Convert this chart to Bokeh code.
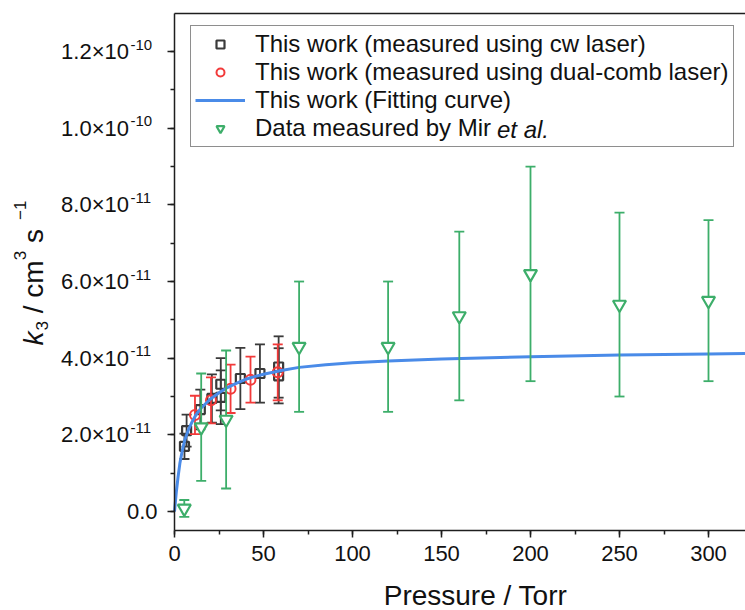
from bokeh.plotting import figure
from bokeh.models import (Range1d, SingleIntervalTicker, FixedTicker,
                          CustomJSTickFormatter, Label, Legend, LegendItem,
                          LinearAxis)
from bokeh.embed import file_html
from bokeh.resources import INLINE

# ---------------- data ----------------
cw_pressure = [5.6, 6.8, 14.5, 21.0, 26.0, 26.0, 37.0, 48.0, 58.5, 58.5]
cw_k3 = [1.70e-11, 2.11e-11, 2.66e-11, 2.95e-11, 3.32e-11, 2.98e-11,
         3.47e-11, 3.60e-11, 3.77e-11, 3.54e-11]
cw_err = [0.33e-11, 0.42e-11, 0.52e-11, 0.63e-11, 0.68e-11, 0.70e-11,
          0.80e-11, 0.76e-11, 0.80e-11, 0.72e-11]

dc_pressure = [11.5, 20.5, 31.5, 42.7, 58.0]
dc_k3 = [2.52e-11, 2.90e-11, 3.20e-11, 3.44e-11, 3.63e-11]
dc_err = [0.50e-11, 0.60e-11, 0.63e-11, 0.60e-11, 0.73e-11]

fit_pressure = [0, 1, 2, 3, 4, 5, 6, 8, 10, 12, 15, 20, 25, 30, 35, 40, 45,
                50, 60, 70, 85, 100, 120, 150, 200, 250, 300, 330]
fit_k3 = [0.0, 0.50e-11, 0.90e-11, 1.25e-11, 1.50e-11, 1.72e-11, 1.90e-11,
          2.15e-11, 2.35e-11, 2.52e-11, 2.70e-11, 2.93e-11, 3.10e-11,
          3.24e-11, 3.35e-11, 3.45e-11, 3.52e-11, 3.58e-11, 3.68e-11,
          3.76e-11, 3.83e-11, 3.88e-11, 3.925e-11, 3.98e-11, 4.04e-11,
          4.08e-11, 4.11e-11, 4.125e-11]

mir_pressure = [5.5, 15, 29, 70, 120, 160, 200, 250, 300]
mir_k3 = [0.08e-11, 2.2e-11, 2.4e-11, 4.3e-11, 4.3e-11, 5.1e-11, 6.2e-11,
          5.4e-11, 5.5e-11]
mir_err = [0.22e-11, 1.4e-11, 1.8e-11, 1.7e-11, 1.7e-11, 2.2e-11, 2.8e-11,
           2.4e-11, 2.1e-11]

y_tick_values = [0.0, 2e-11, 4e-11, 6e-11, 8e-11, 1.0e-10, 1.2e-10]
y_tick_base = ["0.0", "2.0×10", "4.0×10", "6.0×10", "8.0×10", "1.0×10", "1.2×10"]
y_tick_exp = ["", "-11", "-11", "-11", "-11", "-10", "-10"]

legend_labels = ["This work (measured using cw laser)",
                 "This work (measured using dual-comb laser)",
                 "This work (Fitting curve)",
                 "Data measured by Mir"]

# ---------------- styling / geometry ----------------
FONT = "Liberation Sans"
TXT = "#111111"
C_CW = "#3a3a3a"
C_DC = "#f23a3a"
C_FIT = "#4a8be8"
C_MIR = "#3dae6a"
AX = "#1e1e1e"

W, H = 745, 610
X0_PX, Y0_PX = 174.0, 511.0      # page position of (0, 0)
PX_PER_X = 1.78                  # px per Torr
PX_PER_Y = 38.33 / 1e-11         # px per unit of k3

# the whole canvas is the frame; axes sit at fixed positions inside it
X_MIN, X_MAX = -X0_PX / PX_PER_X, (W - X0_PX) / PX_PER_X
Y_MIN, Y_MAX = -(H - Y0_PX) / PX_PER_Y, Y0_PX / PX_PER_Y
X_END = X_MAX                    # plot box right (cut at the picture edge)
Y_START, Y_END = -0.5e-11, 12.99e-11

p = figure(width=W, height=H, x_range=Range1d(X_MIN, X_MAX),
           y_range=Range1d(Y_MIN, Y_MAX), output_backend="svg",
           toolbar_location=None, min_border=0)
p.outline_line_color = None
p.grid.visible = False

xa, ya = p.xaxis[0], p.yaxis[0]
xa.fixed_location = Y_START
xa.bounds = (0, X_END)
ya.fixed_location = 0
ya.bounds = (Y_START, Y_END)
top = LinearAxis(fixed_location=Y_END, bounds=(0, X_END),
                 ticker=FixedTicker(ticks=[]),
                 formatter=CustomJSTickFormatter(code="return ''"),
                 major_tick_line_color=None, minor_tick_line_color=None)
p.add_layout(top, "above")

for ax in (xa, ya, top):
    ax.axis_line_color = AX
    ax.axis_line_width = 1.5
for ax in (xa, ya):
    ax.major_tick_line_color = AX
    ax.major_tick_line_width = 1.5
    ax.minor_tick_line_color = AX
    ax.minor_tick_line_width = 1.5
    ax.major_tick_in = 0
    ax.major_tick_out = 7
    ax.minor_tick_in = 0
    ax.minor_tick_out = 4

xa.ticker = SingleIntervalTicker(interval=50, num_minor_ticks=2)
xa.major_label_text_font = FONT
xa.major_label_text_font_size = "22px"
xa.major_label_text_color = TXT
xa.major_label_standoff = 8

ya.ticker = SingleIntervalTicker(interval=2e-11, num_minor_ticks=2)
ya.formatter = CustomJSTickFormatter(code="return ''")

# ---------------- data marks ----------------
def errorbars(xs, ys, errs, color):
    lo = [y - e for y, e in zip(ys, errs)]
    hi = [y + e for y, e in zip(ys, errs)]
    p.segment(x0=xs, y0=lo, x1=xs, y1=hi, line_color=color, line_width=1.8)
    p.scatter(x=list(xs) + list(xs), y=lo + hi, marker="dash", size=10,
              line_color=color, line_width=1.8)

errorbars(cw_pressure, cw_k3, cw_err, C_CW)
r_cw = p.scatter(cw_pressure, cw_k3, marker="square", size=9, fill_color=None,
                 line_color=C_CW, line_width=2.2)
errorbars(dc_pressure, dc_k3, dc_err, C_DC)
r_dc = p.scatter(dc_pressure, dc_k3, marker="circle", size=10, fill_color=None,
                 line_color=C_DC, line_width=2)
r_fit = p.line(fit_pressure, fit_k3, line_color=C_FIT, line_width=3)
errorbars(mir_pressure, mir_k3, mir_err, C_MIR)
r_mir = p.scatter(mir_pressure, mir_k3, marker="inverted_triangle", size=13,
                  fill_color="white", line_color=C_MIR, line_width=2.2)

# ---------------- legend ----------------
LEG_LEFT, LEG_BOTTOM = 190, 147      # page px
legend = Legend(items=[LegendItem(label=legend_labels[0], renderers=[r_cw]),
                       LegendItem(label=legend_labels[1], renderers=[r_dc]),
                       LegendItem(label=legend_labels[2], renderers=[r_fit]),
                       LegendItem(label=legend_labels[3], renderers=[r_mir])],
                location=(LEG_LEFT, H - LEG_BOTTOM), padding=4, spacing=0,
                glyph_width=50, glyph_height=20, label_height=20,
                label_standoff=10, label_text_font=FONT,
                label_text_font_size="24px", label_text_color=TXT,
                border_line_color=AX, border_line_width=1.2,
                background_fill_color=None, background_fill_alpha=0.0)
p.add_layout(legend)
p.add_layout(Label(x=0, y=0, x_offset=496.5 - X0_PX, y_offset=Y0_PX - 129,
                   text="et al.", text_font=FONT, text_font_size="24px",
                   text_font_style="italic", text_color=TXT,
                   text_baseline="middle", text_align="left", level="overlay"))

# ---------------- y tick labels (base + superscript) ----------------
for v, b, e in zip(y_tick_values, y_tick_base, y_tick_exp):
    if e:
        p.add_layout(Label(x=0, y=v, x_offset=-45.5, text=b, text_font=FONT,
                           text_font_size="22px", text_color=TXT,
                           text_align="right", text_baseline="middle"))
        p.add_layout(Label(x=0, y=v, x_offset=-44, y_offset=7, text=e,
                           text_font=FONT, text_font_size="15px",
                           text_color=TXT, text_align="left",
                           text_baseline="middle"))
    else:
        p.add_layout(Label(x=0, y=v, x_offset=-17, text=b, text_font=FONT,
                           text_font_size="22px", text_color=TXT,
                           text_align="right", text_baseline="middle"))

# ---------------- axis titles ----------------
p.add_layout(Label(x=0, y=0, x_offset=475 - X0_PX, y_offset=Y0_PX - 595,
                   text="Pressure / Torr", text_font=FONT,
                   text_font_size="28px", text_color=TXT,
                   text_align="center", text_baseline="middle"))

# y title pieces (rotated, read bottom to top):
# (text, font px, style, baseline x on page, gap before, width along text)
pieces = [("k", 28, "italic", 43, 0.0, 14.0),
          ("3", 17, "normal", 47, 1.0, 9.5),
          ("/ cm", 28, "normal", 43, 7.8, 52.9),
          ("3", 17, "normal", 25, 0.0, 9.5),
          ("s", 28, "normal", 43, 7.8, 14.0),
          ("−1", 17, "normal", 25, 9.0, 19.4)]
pos = 345.0   # page y where the title starts (bottom)
for txt, sz, st, base_x, gap, w in pieces:
    pos -= gap
    mid_x = base_x - 0.347 * sz          # middle of the em box, left of baseline
    p.add_layout(Label(x=0, y=0, x_offset=mid_x - X0_PX,
                       y_offset=Y0_PX - pos, text=txt,
                       angle=1.5707963267948966, text_font=FONT,
                       text_font_size=f"{sz}px", text_font_style=st,
                       text_color=TXT, text_align="left",
                       text_baseline="middle"))
    pos -= w

open("out.html", "w").write(file_html(p, INLINE))
